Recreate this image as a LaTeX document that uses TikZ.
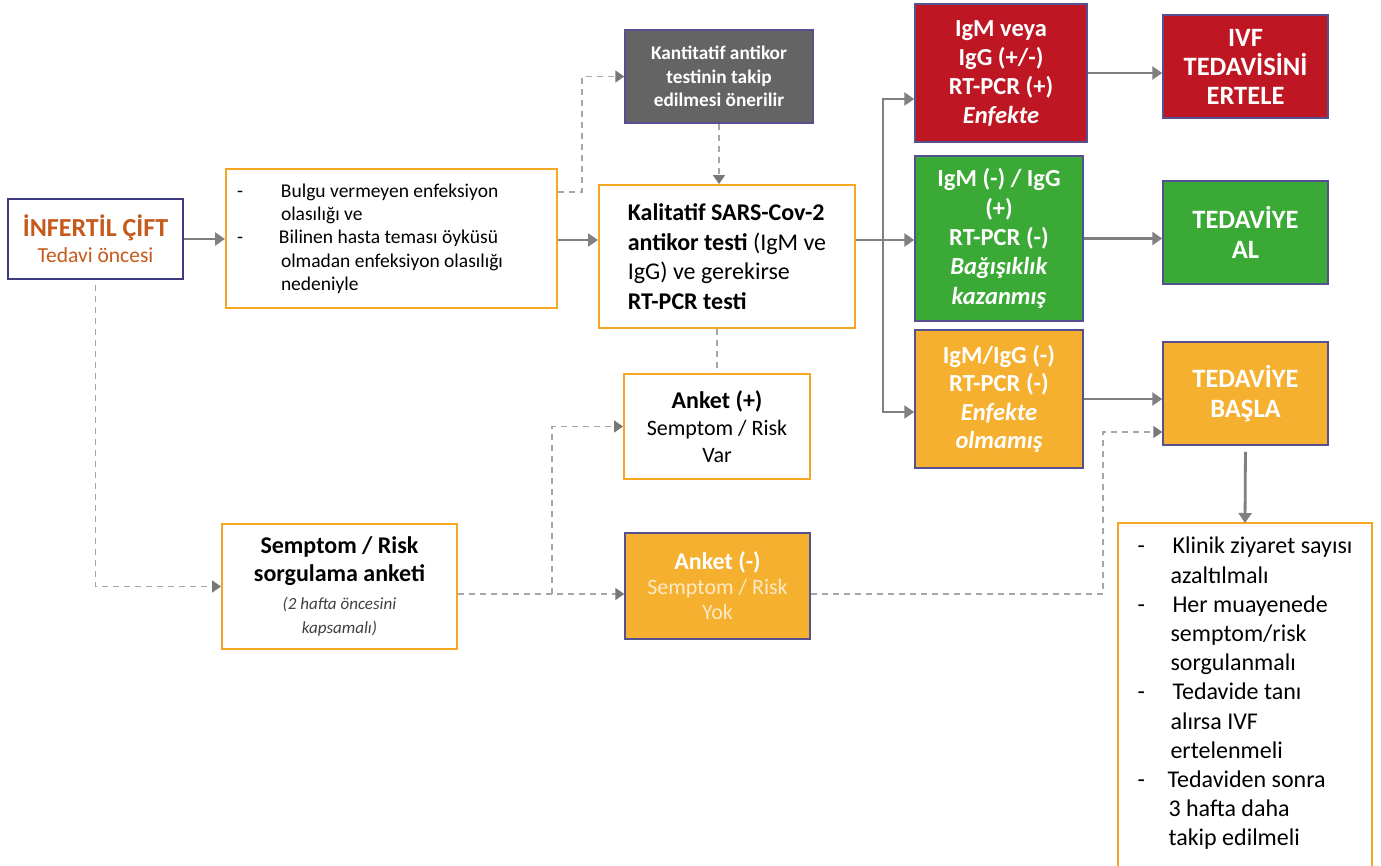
\documentclass[tikz,border=0pt]{standalone}
\usepackage{fontspec}
\setmainfont{Carlito}
\usetikzlibrary{arrows.meta}
\definecolor{cOr}{HTML}{F5A623}
\definecolor{cPu}{HTML}{3E3A82}
\definecolor{cPuL}{HTML}{55508F}
\definecolor{cRed}{HTML}{BE1622}
\definecolor{cGrn}{HTML}{3AA935}
\definecolor{cOrF}{HTML}{F5B030}
\definecolor{cGry}{HTML}{646464}
\definecolor{cTxt}{HTML}{C55A1C}
\definecolor{cLn}{HTML}{808080}
\definecolor{cDs}{HTML}{A6A6A6}
\definecolor{cTip}{HTML}{777777}
\definecolor{cIt}{HTML}{404040}
\definecolor{cCream}{HTML}{FCE9C5}
\begin{document}
\begin{tikzpicture}[x=1pt,y=-1pt,
  bx/.style={rectangle, inner sep=0pt, align=center},
  sz/.style 2 args={minimum width=#1pt, minimum height=#2pt},
  ob/.style={bx, draw=cOr, line width=2pt, fill=white},
  fb/.style={bx, draw=cPuL, line width=1.5pt, text=white},
  sol/.style={draw=cLn, line width=2.8pt, -{Triangle[length=10pt,width=13pt]}},
  dsh/.style={draw=cDs, line width=1.8pt, dash pattern=on 6pt off 5pt},
  dsa/.style={dsh, -{Triangle[length=9pt,width=12pt,color=cTip]}},
]
\useasboundingbox (0,0) rectangle (1381,865);
\fill[white] (0,0) rectangle (1381,865);

% nodes
\node[bx, draw=cPu, line width=2.5pt, fill=white, sz={175}{80}, text=cTxt,
      font=\fontsize{21.5}{26}\selectfont] (inf) at (95.5,239)
  {{\fontsize{26}{26}\selectfont\bfseries İNFERTİL ÇİFT}\\Tedavi öncesi};

\node[ob, sz={331}{139}, align=flush left, text width=309pt, inner xsep=11pt,
      font=\fontsize{19.5}{23.3}\selectfont] (b2) at (391.5,238.5)
  {\makebox[44pt][l]{-}Bulgu vermeyen enfeksiyon\\\hspace*{44pt}olasılığı ve\\\makebox[42pt][l]{-}Bilinen hasta teması öyküsü\\\hspace*{44pt}olmadan enfeksiyon olasılığı\\\hspace*{44pt}nedeniyle};

\node[fb, fill=cGry, sz={188}{93}, font=\fontsize{19.3}{23.5}\selectfont\bfseries] (gry) at (719,76.5)
  {Kantitatif antikor\\testinin takip\\edilmesi önerilir};

\node[ob, sz={256}{143}, align=left, font=\fontsize{24}{29.5}\selectfont] (kal) at (727,256.5)
  {\textbf{Kalitatif SARS-Cov-2}\\\textbf{antikor testi} (IgM ve\\IgG) ve gerekirse\\\textbf{RT-PCR testi}};

\node[ob, sz={186}{105}, font=\fontsize{22}{27}\selectfont] (ankp) at (717,426.5)
  {{\fontsize{24}{27}\selectfont\bfseries Anket (+)}\\Semptom / Risk\\Var};

\node[ob, sz={235}{125}, font=\fontsize{24}{28}\selectfont] (semp) at (339.5,586.5)
  {\textbf{Semptom / Risk}\\\textbf{sorgulama anketi}\\{\fontsize{17}{20}\selectfont\itshape\color{cIt}(2 hafta öncesini}\\[-4pt]{\fontsize{17}{20}\selectfont\itshape\color{cIt}kapsamalı)}};

\node[fb, fill=cOrF, sz={185}{106}, font=\fontsize{22}{25}\selectfont] (ankm) at (717.5,586)
  {{\fontsize{24}{25}\selectfont\bfseries Anket (-)}\\{\color{cCream}Semptom / Risk}\\{\color{cCream}Yok}};

\node[fb, fill=cRed, sz={172}{138}, font=\fontsize{24.5}{29}\selectfont\bfseries] (red) at (1001,73)
  {IgM veya\\IgG (+/-)\\RT-PCR (+)\\\textit{Enfekte}};

\node[fb, fill=cRed, sz={165}{103}, font=\fontsize{26.5}{29}\selectfont\bfseries] (ivf) at (1245.5,66.5)
  {IVF\\TEDAVİSİNİ\\ERTELE};

\node[fb, fill=cGrn, sz={168}{165}, font=\fontsize{24.5}{29.3}\selectfont\bfseries] (grn) at (999,238.5)
  {IgM (-) / IgG\\(+)\\RT-PCR (-)\\\textit{Bağışıklık}\\\textit{kazanmış}};

\node[fb, fill=cGrn, sz={165}{103}, font=\fontsize{26.5}{30}\selectfont\bfseries] (al) at (1245.5,232.5)
  {TEDAVİYE\\AL};

\node[fb, fill=cOrF, sz={168}{138}, font=\fontsize{24.5}{28.5}\selectfont\bfseries] (org) at (999,399)
  {IgM/IgG (-)\\RT-PCR (-)\\\textit{Enfekte}\\\textit{olmamış}};

\node[fb, fill=cOrF, sz={165}{103}, font=\fontsize{26.5}{30}\selectfont\bfseries] (basla) at (1245.5,393.5)
  {TEDAVİYE\\BAŞLA};

\node[bx, anchor=north, minimum width=254pt, inner ysep=14pt, align=flush left,
      font=\fontsize{24}{29.2}\selectfont] (lst) at (1245,523)
  {\makebox[35pt][l]{-}Klinik ziyaret sayısı\\\hspace*{33pt}azaltılmalı\\\makebox[35pt][l]{-}Her muayenede\\\hspace*{33pt}semptom/risk\\\hspace*{33pt}sorgulanmalı\\\makebox[35pt][l]{-}Tedavide tanı\\\hspace*{33pt}alırsa IVF\\\hspace*{33pt}ertelenmeli\\\makebox[30pt][l]{-}Tedaviden sonra\\\hspace*{31pt}3 hafta daha\\\hspace*{31pt}takip edilmeli};
\draw[draw=cOr, line width=2pt] (lst.south west) ++(0,60) |- (lst.north east) -- ++(0,420);

% helper coordinates
\coordinate (h240) at (0,240);
\coordinate (br) at (883,240);
\coordinate (brT) at (883,99);
\coordinate (brB) at (883,412);
\coordinate (d192) at (582,192);
\coordinate (s594) at (552,594);
\coordinate (a594) at (1103,594);
\coordinate (a432) at (1103,432);

% solid connectors
\draw[sol] (inf.east) -- (inf.east -| b2.west);
\draw[sol] (b2.east |- h240) -- (kal.west |- h240);
\draw[sol] (kal.east |- h240) -- (br -| grn.west);
\draw[sol] (br) -- (brT) -- (brT -| red.west);
\draw[sol] (br) -- (brB) -- (brB -| org.west);
\draw[sol] (red.east) -- (red.east -| ivf.west);
\draw[sol] (grn.east) -- (grn.east -| al.west);
\draw[sol] (org.east) -- (org.east -| basla.west);
\draw[sol, shorten <=6pt] (basla.south) -- (lst.north);

% dashed connectors
\draw[dsa] (d192 -| b2.east) -- (d192) |- (gry.west);
\draw[dsa] (gry.south) -- (gry.south |- kal.north);
\draw[dsh] (kal.south -| ankp.north) -- (ankp.north);
\draw[dsa, shorten <=5pt] (inf.south) |- (semp.west);
\draw[dsa] (semp.east |- s594) -- (ankm.west |- s594);
\draw[dsa] (s594) |- (ankp.west);
\draw[dsa] (ankm.east |- a594) -- (a594) -- (a432) -- (a432 -| basla.west);
\end{tikzpicture}
\end{document}
